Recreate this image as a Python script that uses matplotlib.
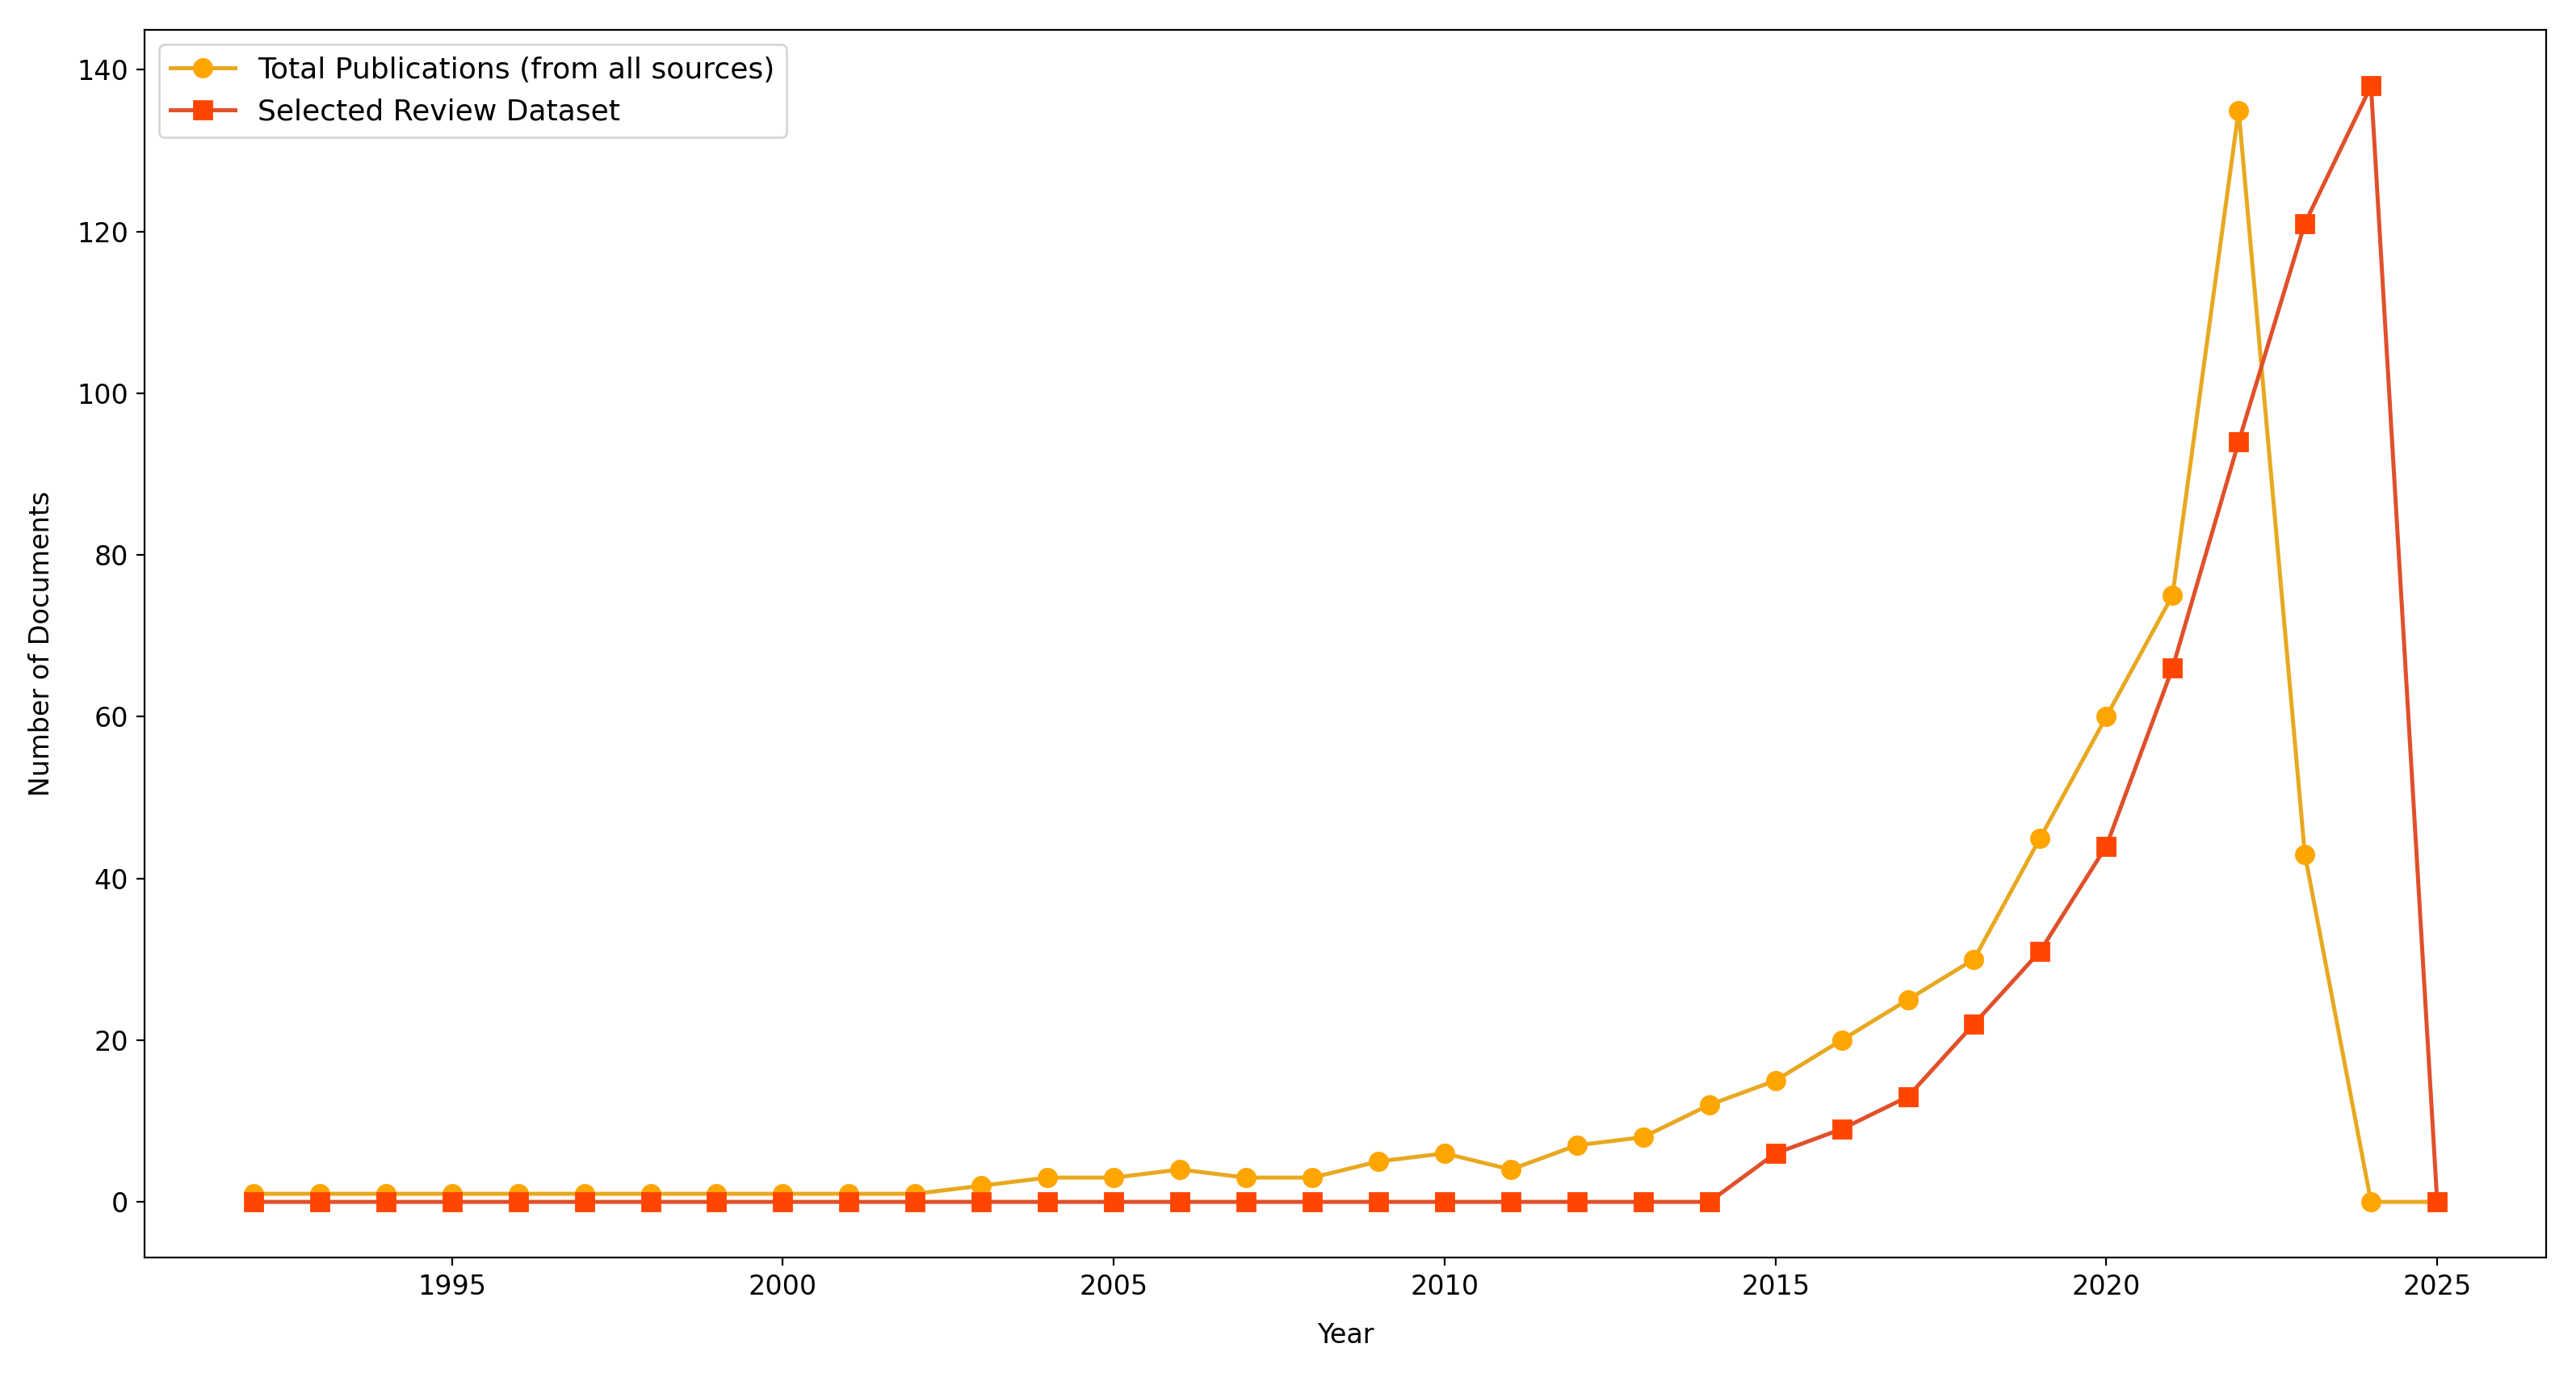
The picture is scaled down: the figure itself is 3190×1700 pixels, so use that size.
import matplotlib.pyplot as plt
import numpy as np

# años y conteos
years = np.arange(1992, 2026)
total_pubs = [1, 1, 1, 1, 1, 1, 1, 1, 1, 1, 1,
              2, 3, 3, 4, 3, 3, 5, 6, 4, 7, 8, 12,
              15, 20, 25, 30, 45, 60, 75, 135, 43, 0, 0]
selected = [0] * 23 + [6, 9, 13, 22, 31, 44, 66, 94, 121, 138, 0]

plt.rcParams['font.size'] = 12

fig = plt.figure(figsize=(15.95, 8.5), dpi=200)
ax = fig.add_axes([0.056, 0.084, 0.9325, 0.894])

ax.plot(years, total_pubs, color='#E8A820', marker='o', markersize=8,
        markerfacecolor='#FFA500', markeredgecolor='#FFA500',
        linewidth=1.8, label='Total Publications (from all sources)')
ax.plot(years, selected, color='#E0502A', marker='s', markersize=8,
        markerfacecolor='#FF4500', markeredgecolor='#FF4500',
        linewidth=1.8, label='Selected Review Dataset')

ax.set_xlabel('Year', labelpad=10)
ax.set_ylabel('Number of Documents', labelpad=10)
ax.set_xticks([1995, 2000, 2005, 2010, 2015, 2020, 2025])
ax.set_yticks(np.arange(0, 141, 20))
ax.legend(loc='upper left', fontsize=13, handlelength=2.2)

fig.savefig('out.png', dpi=200)
